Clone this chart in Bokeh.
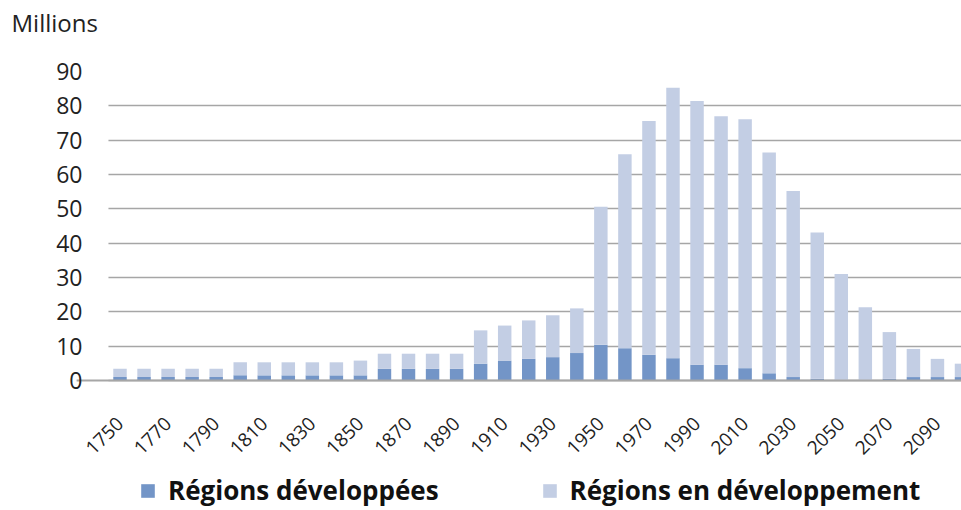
import math
from bokeh.plotting import figure
from bokeh.models import (ColumnDataSource, Range1d, FixedTicker, Legend, LegendItem,
                          LinearAxis, BoxAnnotation)
from bokeh.embed import file_html
from bokeh.resources import INLINE

years = list(range(1750, 2101, 10))
developed = [1.0, 1.0, 1.0, 1.0, 1.0,
             1.5, 1.5, 1.5, 1.5, 1.5,
             1.5, 3.4, 3.4, 3.4, 3.4,
             4.9, 5.8, 6.3, 6.8, 8.0,
             10.4, 9.4, 7.5, 6.5, 4.6,
             4.6, 3.6, 2.1, 1.0, 0.5,
             0.2, 0.2, 0.5, 1.0, 1.0, 1.0]
developing = [2.4, 2.4, 2.4, 2.4, 2.4,
              3.8, 3.8, 3.8, 3.8, 3.8,
              4.3, 4.4, 4.4, 4.4, 4.4,
              9.7, 10.2, 11.2, 12.2, 13.0,
              40.2, 56.5, 68.1, 78.8, 76.8,
              72.4, 72.5, 64.3, 54.2, 42.6,
              30.8, 21.1, 13.6, 8.2, 5.3, 3.9]
tick_years = list(range(1750, 2091, 20))
y_ticks = list(range(0, 91, 10))
series_names = ["Régions développées", "Régions en développement"]

DARK = "#7395c7"
LIGHT = "#c3cee4"
FONT = "Open Sans"

# layout: 309 px for 0..90, plus 130 px below zero for tick labels and legend
PX_PER_UNIT = 309 / 90
Y_BOTTOM = -130 / PX_PER_UNIT
PX_PER_YEAR = 2.404
FRAME_LEFT = 76
PLOT_START = 1745.2                      # where the gridlines begin
X_START = 1750 - (119.5 - FRAME_LEFT) / PX_PER_YEAR

src = ColumnDataSource(dict(year=years, dev=developed, devg=developing))

p = figure(frame_width=961 - FRAME_LEFT, frame_height=439, output_backend="svg",
           toolbar_location=None,
           x_range=Range1d(X_START, 2100.0), y_range=Range1d(Y_BOTTOM, 90),
           x_axis_location=None,
           min_border_left=FRAME_LEFT, min_border_right=0, min_border_top=71,
           min_border_bottom=0)

# white mask so the gridlines start where the reference's plot area starts
p.add_layout(BoxAnnotation(right=PLOT_START, fill_color="white", fill_alpha=1,
                           line_color=None, level="underlay"))

rs = p.vbar_stack(["dev", "devg"], x="year", width=5.6, color=[DARK, LIGHT],
                  line_color=None, source=src)

p.title.text = "Millions\n\u00a0"
p.title.text_font = FONT
p.title.text_font_size = "24px"
p.title.text_font_style = "normal"
p.title.text_color = "#222222"
p.title.align = "left"
p.title.offset = 12 - FRAME_LEFT - 1
p.title.standoff = 0

p.outline_line_color = None
p.xgrid.grid_line_color = None
p.ygrid.grid_line_color = "#a6a6a6"
p.ygrid.grid_line_width = 1.5

xaxis = LinearAxis(fixed_location=0, ticker=FixedTicker(ticks=tick_years))
xaxis.major_label_orientation = math.pi / 4
xaxis.major_tick_line_color = None
xaxis.minor_tick_line_color = None
xaxis.major_tick_out = 0
xaxis.major_tick_in = 0
xaxis.axis_line_color = "#a6a6a6"
xaxis.axis_line_width = 2
xaxis.major_label_text_font = FONT
xaxis.major_label_text_font_size = "19px"
xaxis.major_label_text_color = "#222222"
xaxis.major_label_standoff = 40
p.add_layout(xaxis, "below")

p.yaxis.ticker = FixedTicker(ticks=y_ticks)
p.yaxis.axis_line_color = None
p.yaxis.major_tick_line_color = None
p.yaxis.minor_tick_line_color = None
p.yaxis.major_tick_out = 0
p.yaxis.major_tick_in = 0
p.yaxis.major_label_text_font = FONT
p.yaxis.major_label_text_font_size = "23px"
p.yaxis.major_label_text_color = "#222222"
p.yaxis.major_label_standoff = -6

legend = Legend(items=[LegendItem(label=series_names[0], renderers=[rs[0]]),
                       LegendItem(label=series_names[1], renderers=[rs[1]])],
                orientation="horizontal", location=(139 - FRAME_LEFT, 2),
                border_line_color=None, background_fill_alpha=0,
                label_text_font=FONT, label_text_font_size="26px",
                label_text_font_style="bold", label_text_color="#111111",
                glyph_width=17, glyph_height=17, spacing=102, label_standoff=12,
                padding=0, margin=0)
p.add_layout(legend)

open("out.html", "w").write(file_html(p, INLINE))
